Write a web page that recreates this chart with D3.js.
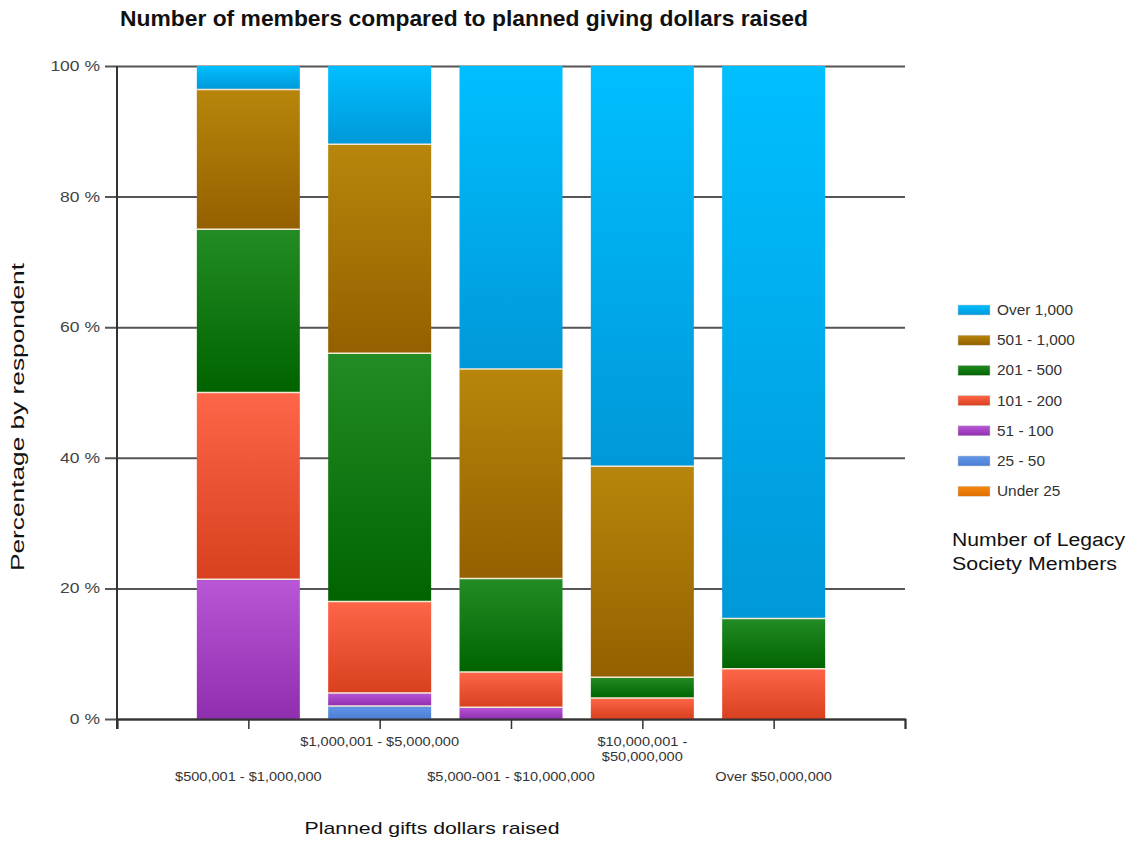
<!DOCTYPE html>
<html>
<head>
<meta charset="utf-8">
<script src="https://cdn.jsdelivr.net/npm/d3@7"></script>
<style>
  html, body { margin: 0; padding: 0; background: #fff; }
  svg { display: block; font-family: "Liberation Sans", Arial, sans-serif; }
</style>
</head>
<body>
<svg id="chart" width="1132" height="843"></svg>
<script>
// Planned-gift ranges (x categories)
const categories = [
  "$500,001 - $1,000,000",
  "$1,000,001 - $5,000,000",
  "$5,000-001 - $10,000,000",
  "$10,000,001 - $50,000,000",
  "Over $50,000,000"
];
// Multi-line versions of the category labels as drawn under the axis
const categoryLabelLines = [
  ["$500,001 - $1,000,000"],
  ["$1,000,001 - $5,000,000"],
  ["$5,000-001 - $10,000,000"],
  ["$10,000,001 -", "$50,000,000"],
  ["Over $50,000,000"]
];

// Member-count bands, stacked bottom to top
const seriesNames = ["Under 25", "25 - 50", "51 - 100", "101 - 200", "201 - 500", "501 - 1,000", "Over 1,000"];

// Percentage of respondents in each band, per category
const under25       = [0,    0,    0,    0,    0];
const from25to50    = [0,    2.0,  0,    0,    0];
const from51to100   = [21.4, 2.0,  1.8,  0,    0];
const from101to200  = [28.6, 14.0, 5.4,  3.2,  7.7];
const from201to500  = [25.0, 38.0, 14.3, 3.2,  7.7];
const from501to1000 = [21.4, 32.0, 32.1, 32.3, 0];
const over1000      = [3.6,  12.0, 46.4, 61.3, 84.6];

const seriesValues = [under25, from25to50, from51to100, from101to200, from201to500, from501to1000, over1000];

const yTicks = [0, 20, 40, 60, 80, 100];

// Gradient stops (top, bottom) for each band
const bandColors = {
  "Under 25":    ["#f58a10", "#e06c00"],
  "25 - 50":     ["#6496e6", "#4a7fd6"],
  "51 - 100":    ["#b857d6", "#8f2eae"],
  "101 - 200":   ["#ff6548", "#d8401f"],
  "201 - 500":   ["#238c24", "#006300"],
  "501 - 1,000": ["#b8860b", "#946000"],
  "Over 1,000":  ["#00bfff", "#0098d8"]
};
const legendOrder = ["Over 1,000", "501 - 1,000", "201 - 500", "101 - 200", "51 - 100", "25 - 50", "Under 25"];

const svg = d3.select("#chart");

// Widen a text element horizontally by a factor (glyphs are drawn slightly wide)
function widen(sel, factor) {
  sel.each(function () {
    const w = this.getComputedTextLength();
    d3.select(this).attr("textLength", w * factor).attr("lengthAdjust", "spacingAndGlyphs");
  });
}

const plot = { left: 117, right: 905, top: 66, bottom: 719 };

// Positions 0..6: bars sit on 1..5, the ends of the axis on 0 and 6
const x = d3.scaleLinear().domain([0, categories.length + 1]).range([plot.left, plot.right]);
const y = d3.scaleLinear().domain([0, 100]).range([plot.bottom, plot.top]);
const barWidth = 103;

// Gradients
const defs = svg.append("defs");
seriesNames.forEach((name, i) => {
  const g = defs.append("linearGradient")
    .attr("id", "grad" + i)
    .attr("x1", 0).attr("y1", 0).attr("x2", 0).attr("y2", 1);
  g.append("stop").attr("offset", "0%").attr("stop-color", bandColors[name][0]);
  g.append("stop").attr("offset", "100%").attr("stop-color", bandColors[name][1]);
});

// Title
svg.append("text")
  .attr("x", 464).attr("y", 26)
  .attr("text-anchor", "middle")
  .attr("font-size", 22).attr("font-weight", "bold")
  .attr("fill", "#111")
  .attr("textLength", 688).attr("lengthAdjust", "spacingAndGlyphs")
  .text("Number of members compared to planned giving dollars raised");

// Horizontal gridlines with tick stubs
const yAxis = d3.axisLeft(y).tickValues(yTicks).tickSize(-(plot.right - plot.left + 12)).tickFormat(d => d + " %");
const yg = svg.append("g")
  .attr("transform", `translate(${plot.left - 12},0)`)
  .call(yAxis);
yg.select(".domain").remove();
yg.selectAll(".tick line").attr("stroke", "#555").attr("stroke-width", 2);
yg.selectAll(".tick text")
  .attr("x", -5)
  .attr("font-size", 14)
  .attr("fill", "#444")
  .call(widen, 1.25);

// Stacked bars
const stackData = categories.map((c, j) => {
  const row = { cat: c };
  seriesNames.forEach((s, i) => row[s] = seriesValues[i][j]);
  return row;
});
const stacked = d3.stack().keys(seriesNames)(stackData);

const barsG = svg.append("g");
stacked.forEach((layer, i) => {
  barsG.selectAll(null)
    .data(layer.filter(d => d[1] - d[0] > 0))
    .join("rect")
    .attr("x", d => x(categories.indexOf(d.data.cat) + 1) - barWidth / 2)
    .attr("width", barWidth)
    .attr("y", d => y(d[1]))
    .attr("height", d => y(d[0]) - y(d[1]))
    .attr("fill", `url(#grad${i})`);
});
// Light separators between stacked segments
stacked.forEach((layer) => {
  barsG.selectAll(null)
    .data(layer.filter(d => d[1] - d[0] > 0 && d[1] < 99.9))
    .join("line")
    .attr("x1", d => x(categories.indexOf(d.data.cat) + 1) - barWidth / 2)
    .attr("x2", d => x(categories.indexOf(d.data.cat) + 1) + barWidth / 2)
    .attr("y1", d => y(d[1]))
    .attr("y2", d => y(d[1]))
    .attr("stroke", "#f3e9d6")
    .attr("stroke-width", 1.5);
});

// Axes lines
svg.append("line")
  .attr("x1", plot.left).attr("x2", plot.left)
  .attr("y1", plot.top).attr("y2", plot.bottom + 10)
  .attr("stroke", "#333").attr("stroke-width", 2);

const xAxis = d3.axisBottom(x).tickValues(d3.range(0, categories.length + 2)).tickSize(10).tickFormat("");
const xg = svg.append("g")
  .attr("transform", `translate(0,${plot.bottom})`)
  .call(xAxis);
xg.select(".domain").attr("stroke", "#333").attr("stroke-width", 2);
xg.selectAll(".tick line").attr("stroke", "#333").attr("stroke-width", 1.5);

// Staggered category labels
const xLabels = svg.append("g").attr("font-size", 13).attr("fill", "#333");
categoryLabelLines.forEach((lines, j) => {
  const baseY = j % 2 === 0 ? 781 : 746;
  lines.forEach((ln, k) => {
    xLabels.append("text")
      .attr("x", x(j + 1))
      .attr("y", baseY + k * 15)
      .attr("text-anchor", "middle")
      .text(ln)
      .call(widen, 1.12);
  });
});

// Axis titles
svg.append("text")
  .attr("transform", "translate(24,417) rotate(-90)")
  .attr("text-anchor", "middle")
  .attr("font-size", 19).attr("fill", "#111")
  .attr("textLength", 308).attr("lengthAdjust", "spacingAndGlyphs")
  .text("Percentage by respondent");

svg.append("text")
  .attr("x", 432).attr("y", 834)
  .attr("text-anchor", "middle")
  .attr("font-size", 17).attr("fill", "#111")
  .attr("textLength", 255).attr("lengthAdjust", "spacingAndGlyphs")
  .text("Planned gifts dollars raised");

// Legend
const legend = svg.append("g");
legendOrder.forEach((name, i) => {
  const gy = 310 + i * 30.2;
  legend.append("rect")
    .attr("x", 958).attr("y", gy - 5)
    .attr("width", 32).attr("height", 10)
    .attr("fill", `url(#grad${seriesNames.indexOf(name)})`)
    .attr("stroke", "#ccc").attr("stroke-width", 0.5);
  legend.append("text")
    .attr("x", 997).attr("y", gy + 5)
    .attr("font-size", 14).attr("fill", "#333")
    .text(name)
    .call(widen, 1.1);
});
legend.append("text")
  .attr("x", 952).attr("y", 546)
  .attr("font-size", 18).attr("fill", "#111")
  .attr("textLength", 173).attr("lengthAdjust", "spacingAndGlyphs")
  .text("Number of Legacy");
legend.append("text")
  .attr("x", 952).attr("y", 570)
  .attr("font-size", 18).attr("fill", "#111")
  .attr("textLength", 165).attr("lengthAdjust", "spacingAndGlyphs")
  .text("Society Members");
</script>
</body>
</html>
